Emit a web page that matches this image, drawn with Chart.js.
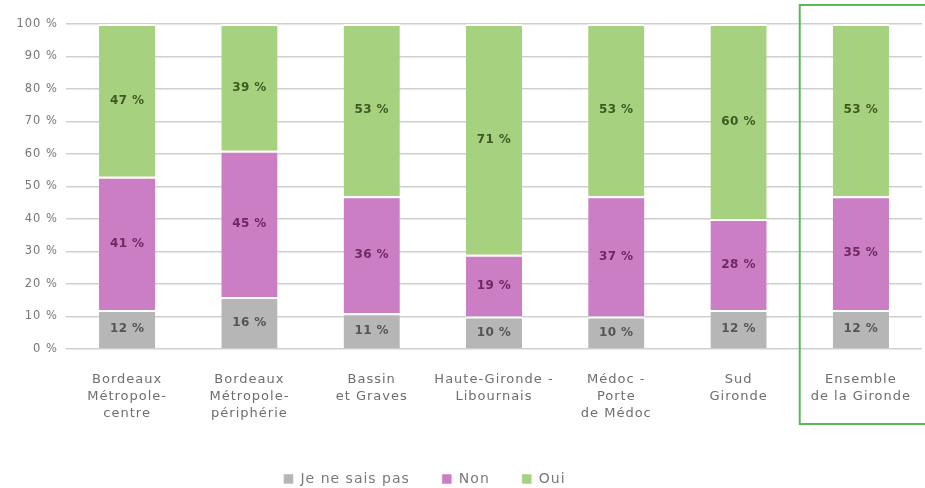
<!DOCTYPE html>
<html>
<head>
<meta charset="utf-8">
<script src="https://cdn.jsdelivr.net/npm/chart.js@4.4.1/dist/chart.umd.min.js"></script>
<style>
  html, body { margin: 0; padding: 0; background: #fff; }
  #wrap { width: 925px; height: 488px; position: relative; }
</style>
</head>
<body>
<div id="wrap"><canvas id="chart"></canvas></div>
<script>
// --- Données ---
const zones = [
    ['Bordeaux', 'Métropole-', 'centre'],
    ['Bordeaux', 'Métropole-', 'périphérie'],
    ['Bassin', 'et Graves'],
    ['Haute-Gironde -', 'Libournais'],
    ['Médoc -', 'Porte', 'de Médoc'],
    ['Sud', 'Gironde'],
    ['Ensemble', 'de la Gironde']
];
const jeNeSaisPas = [12, 16, 11, 10, 10, 12, 12];
const non = [41, 45, 36, 19, 37, 28, 35];
const oui = [47, 39, 53, 71, 53, 60, 53];
const yTicks = [0, 10, 20, 30, 40, 50, 60, 70, 80, 90, 100];

const colors = {
    nsp: '#b6b6b6',
    non: '#cb7ec4',
    oui: '#a6d27f'
};
const labelColors = ['#555555', '#6b2a63', '#3e5a22'];
const FONT = "'DejaVu Sans'";

// espacement des lettres (le texte d'origine est très espacé)
const spacing = {
    id: 'spacing',
    beforeUpdate(chart) { chart.ctx.letterSpacing = '1px'; },
    beforeDraw(chart) { chart.ctx.letterSpacing = '1px'; },
    afterLayout(chart) {
        // légende décalée vers la gauche et vers le bas comme dans l'original
        chart.legend.left -= 38;
        chart.legend.right -= 38;
        chart.legend.top += 8;
        chart.legend.bottom += 8;
    }
};

// --- Étiquettes dans les barres ---
const barLabels = {
    id: 'barLabels',
    afterDatasetsDraw(chart) {
        const ctx = chart.ctx;
        ctx.save();
        ctx.letterSpacing = '0.4px';
        ctx.font = 'bold 12px ' + FONT;
        ctx.textAlign = 'center';
        ctx.textBaseline = 'middle';
        chart.data.datasets.forEach((ds, i) => {
            const meta = chart.getDatasetMeta(i);
            meta.data.forEach((bar, j) => {
                ctx.fillStyle = labelColors[i];
                ctx.fillText(ds.data[j] + ' %', bar.x, (bar.y + bar.base) / 2);
            });
        });
        ctx.restore();
    }
};

// --- Cadre vert autour de "Ensemble de la Gironde" ---
const highlightBox = {
    id: 'highlightBox',
    afterDraw(chart) {
        const x = chart.scales.x;
        const left = (x.getPixelForValue(5) + x.getPixelForValue(6)) / 2;
        const ctx = chart.ctx;
        ctx.save();
        ctx.strokeStyle = '#5cb85c';
        ctx.lineWidth = 2;
        ctx.strokeRect(left, 5, chart.width - left + 5, chart.chartArea.bottom + 75 - 5);
        ctx.restore();
    }
};

const common = {
    borderColor: '#ffffff',
    borderWidth: { top: 2, left: 0, right: 0, bottom: 0 },
    borderSkipped: false,
    barPercentage: 0.46,
    categoryPercentage: 1
};

new Chart(document.getElementById('chart'), {
    type: 'bar',
    data: {
        labels: zones,
        datasets: [
            Object.assign({ label: 'Je ne sais pas', data: jeNeSaisPas, backgroundColor: colors.nsp }, common),
            Object.assign({ label: 'Non', data: non, backgroundColor: colors.non }, common),
            Object.assign({ label: 'Oui', data: oui, backgroundColor: colors.oui }, common)
        ]
    },
    options: {
        responsive: true,
        maintainAspectRatio: false,
        animation: false,
        layout: { padding: { top: 24, right: 0, left: 0, bottom: 0 } },
        scales: {
            x: {
                stacked: true,
                grid: { display: false },
                border: { display: false },
                ticks: {
                    color: '#6e6e6e',
                    font: { family: FONT, size: 13, lineHeight: 1.3 },
                    padding: 14,
                    maxRotation: 0,
                    autoSkip: false
                },
                afterFit(scale) { scale.height = 83; }
            },
            y: {
                stacked: true,
                min: 0,
                max: 100,
                afterBuildTicks(scale) { scale.ticks = yTicks.map(v => ({ value: v })); },
                grid: { color: '#cfcfcf', lineWidth: 1.5, drawTicks: false },
                border: { display: false },
                ticks: {
                    color: '#777',
                    font: { family: FONT, size: 11.5 },
                    padding: 8,
                    callback: v => v + ' %'
                },
                afterFit(scale) { scale.width = 66; }
            }
        },
        plugins: {
            legend: {
                position: 'bottom',
                labels: {
                    color: '#7a7a7a',
                    font: { family: FONT, size: 14 },
                    boxWidth: 10,
                    boxHeight: 10,
                    padding: 32
                }
            },
            tooltip: { enabled: false }
        }
    },
    plugins: [spacing, barLabels, highlightBox]
});
</script>
</body>
</html>
